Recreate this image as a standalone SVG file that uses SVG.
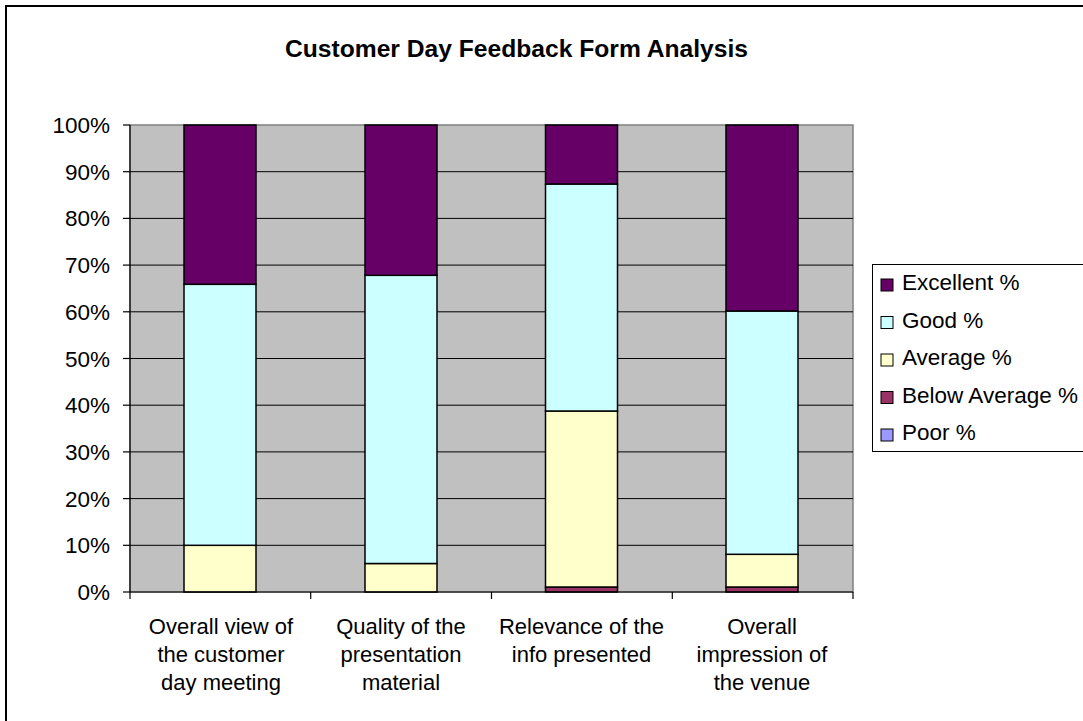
<svg xmlns="http://www.w3.org/2000/svg" width="1083" height="721" viewBox="0 0 1083 721">
<style>
text{font-family:"Liberation Sans",Arial,sans-serif;fill:#000}
.t{font-size:23px;font-weight:bold}
.ax{font-size:22.5px}
.cat{font-size:22px}
.grid{stroke:#000;stroke-width:1}
.bar{stroke:#000;stroke-width:1.5}
.exc{fill:#660066}.good{fill:#CCFFFF}.avg{fill:#FFFFCC}.below{fill:#993366}.poor{fill:#9999FF}
</style>
<rect x="0" y="0" width="1083" height="721" fill="#fff"/>
<rect x="6" y="6" width="1100" height="730" fill="#fff" stroke="#000" stroke-width="2"/>
<text class="t" x="285" y="57" textLength="463" lengthAdjust="spacingAndGlyphs">Customer Day Feedback Form Analysis</text>
<g id="plot">
<rect x="130" y="125" width="723" height="467" fill="#C0C0C0" stroke="#808080" stroke-width="1.5"/>
<g class="grid">
<line x1="130" y1="545.3" x2="853" y2="545.3"/>
<line x1="130" y1="498.6" x2="853" y2="498.6"/>
<line x1="130" y1="451.9" x2="853" y2="451.9"/>
<line x1="130" y1="405.2" x2="853" y2="405.2"/>
<line x1="130" y1="358.5" x2="853" y2="358.5"/>
<line x1="130" y1="311.8" x2="853" y2="311.8"/>
<line x1="130" y1="265.1" x2="853" y2="265.1"/>
<line x1="130" y1="218.4" x2="853" y2="218.4"/>
<line x1="130" y1="171.7" x2="853" y2="171.7"/>
</g>
</g>
<g id="bar1" class="bar">
<rect class="avg" x="184" y="545.3" width="72" height="46.7"/>
<rect class="good" x="184" y="284.3" width="72" height="261"/>
<rect class="exc" x="184" y="125" width="72" height="159.3"/>
</g>
<g id="bar2" class="bar">
<rect class="avg" x="365" y="563.5" width="72" height="28.5"/>
<rect class="good" x="365" y="275.3" width="72" height="288.2"/>
<rect class="exc" x="365" y="125" width="72" height="150.3"/>
</g>
<g id="bar3" class="bar">
<rect class="below" x="545.5" y="587" width="72" height="5"/>
<rect class="avg" x="545.5" y="411" width="72" height="176"/>
<rect class="good" x="545.5" y="184" width="72" height="227"/>
<rect class="exc" x="545.5" y="125" width="72" height="59"/>
</g>
<g id="bar4" class="bar">
<rect class="below" x="726" y="587" width="72" height="5"/>
<rect class="avg" x="726" y="554.3" width="72" height="32.7"/>
<rect class="good" x="726" y="311" width="72" height="243.3"/>
<rect class="exc" x="726" y="125" width="72" height="186"/>
</g>
<g id="axes" stroke="#000" stroke-width="1.2">
<line x1="130" y1="125" x2="130" y2="592"/>
<line x1="130" y1="592" x2="853" y2="592"/>
<line x1="123" y1="592" x2="130" y2="592"/>
<line x1="123" y1="545.3" x2="130" y2="545.3"/>
<line x1="123" y1="498.6" x2="130" y2="498.6"/>
<line x1="123" y1="451.9" x2="130" y2="451.9"/>
<line x1="123" y1="405.2" x2="130" y2="405.2"/>
<line x1="123" y1="358.5" x2="130" y2="358.5"/>
<line x1="123" y1="311.8" x2="130" y2="311.8"/>
<line x1="123" y1="265.1" x2="130" y2="265.1"/>
<line x1="123" y1="218.4" x2="130" y2="218.4"/>
<line x1="123" y1="171.7" x2="130" y2="171.7"/>
<line x1="123" y1="125" x2="130" y2="125"/>
<line x1="130" y1="592" x2="130" y2="599"/>
<line x1="310.7" y1="592" x2="310.7" y2="599"/>
<line x1="491.5" y1="592" x2="491.5" y2="599"/>
<line x1="672.3" y1="592" x2="672.3" y2="599"/>
<line x1="853" y1="592" x2="853" y2="599"/>
</g>
<g id="ylabels" class="ax" text-anchor="end">
<text x="110" y="600">0%</text>
<text x="110" y="553.3">10%</text>
<text x="110" y="506.6">20%</text>
<text x="110" y="459.9">30%</text>
<text x="110" y="413.2">40%</text>
<text x="110" y="366.5">50%</text>
<text x="110" y="319.8">60%</text>
<text x="110" y="273.1">70%</text>
<text x="110" y="226.4">80%</text>
<text x="110" y="179.7">90%</text>
<text x="110" y="133">100%</text>
</g>
<g id="xlabels" class="cat" text-anchor="middle">
<text x="221" y="634">Overall view of</text>
<text x="221" y="662">the customer</text>
<text x="221" y="690">day meeting</text>
<text x="401" y="634">Quality of the</text>
<text x="401" y="662">presentation</text>
<text x="401" y="690">material</text>
<text x="581.5" y="634">Relevance of the</text>
<text x="581.5" y="662">info presented</text>
<text x="762" y="634">Overall</text>
<text x="762" y="662">impression of</text>
<text x="762" y="690">the venue</text>
</g>
<g id="legend">
<rect x="872.5" y="264.5" width="230" height="187" fill="#fff" stroke="#000" stroke-width="1"/>
<g class="bar" style="stroke-width:1">
<rect class="exc" x="881" y="279" width="12" height="12"/>
<rect class="good" x="881" y="316.5" width="12" height="12"/>
<rect class="avg" x="881" y="354" width="12" height="12"/>
<rect class="below" x="881" y="391.5" width="12" height="12"/>
<rect class="poor" x="881" y="429" width="12" height="12"/>
</g>
<g class="ax">
<text x="902" y="290">Excellent %</text>
<text x="902" y="327.5">Good %</text>
<text x="902" y="365">Average %</text>
<text x="902" y="402.5">Below Average %</text>
<text x="902" y="440">Poor %</text>
</g>
</g>
</svg>
